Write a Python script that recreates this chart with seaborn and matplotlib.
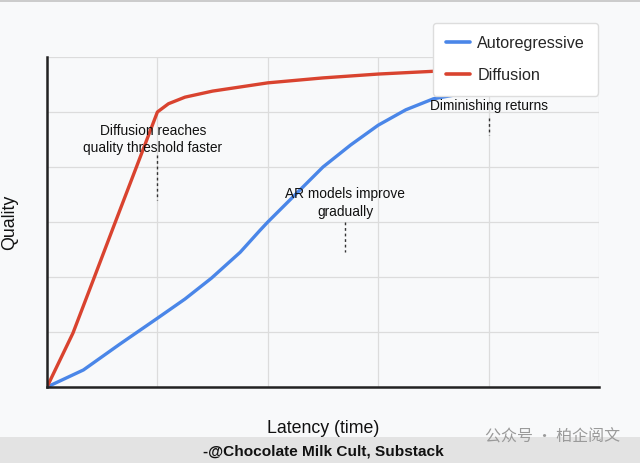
import matplotlib
matplotlib.use("Agg")
import matplotlib.pyplot as plt
import seaborn as sns
import pandas as pd
from matplotlib.patches import Rectangle

# ---- data ----
diff_x = [0, 0.235, 0.42, 0.6, 0.81, 1.0, 1.1, 1.25, 1.5, 2.0, 2.5, 3.0, 3.5, 4.0, 4.5, 5.0]
diff_y = [0, 0.98, 1.95, 2.9, 4.0, 5.0, 5.15, 5.27, 5.38, 5.53, 5.62, 5.69, 5.74, 5.79, 5.83, 5.87]
ar_x = [0, 0.33, 0.66, 1.0, 1.25, 1.49, 1.75, 1.93, 2.0, 2.25, 2.5, 2.75, 3.0, 3.25, 3.5, 3.75, 4.0, 4.5, 5.0]
ar_y = [0, 0.31, 0.78, 1.25, 1.6, 1.98, 2.45, 2.85, 3.0, 3.5, 4.0, 4.4, 4.76, 5.04, 5.24, 5.33, 5.39, 5.46, 5.5]
series_names = ["Autoregressive", "Diffusion"]
colors = ["#4a86e8", "#d9432f"]
annotations = [
    ("Diffusion reaches\nquality threshold faster", 0.96, 1.0, 4.5, 4.22, 3.4),
    ("AR models improve\ngradually", 2.7, 2.7, 3.35, 3.0, 2.45),
    ("Diminishing returns", 4.0, 4.0, 5.11, 4.89, 4.58),
]
x_label = "Latency (time)"
y_label = "Quality"
credit = "-@Chocolate Milk Cult, Substack"
watermark = "公众号 · 柏企阅文"

df = pd.concat([
    pd.DataFrame({"x": ar_x, "y": ar_y, "series": series_names[0]}),
    pd.DataFrame({"x": diff_x, "y": diff_y, "series": series_names[1]}),
])

sns.set_theme(style="white")
plt.rcParams["font.family"] = ["Liberation Sans", "Noto Sans CJK SC", "DejaVu Sans"]

bg = "#f8f9fa"
fig = plt.figure(figsize=(6.4, 4.63), dpi=100, facecolor=bg)
ax = fig.add_axes([47/640, 1-387/463, (599-47)/640, (387-57)/463])
ax.set_facecolor(bg)

sns.lineplot(data=df, x="x", y="y", hue="series", palette=dict(zip(series_names, colors)),
             linewidth=2.4, ax=ax, legend=False, sort=False)

ax.set_xlim(0, 5)
ax.set_ylim(0, 6)
ax.set_xticks([0, 1, 2, 3, 4, 5])
ax.set_yticks([0, 1, 2, 3, 4, 5, 6])
ax.set_xticklabels([])
ax.set_yticklabels([])
ax.grid(True, color="#dcdcdc", linewidth=0.9)
ax.tick_params(axis="x", length=3, width=1, color="#333333", direction="in")
ax.tick_params(axis="y", length=0)
for s in ["top", "right"]:
    ax.spines[s].set_visible(False)
for s in ["left", "bottom"]:
    ax.spines[s].set_color("#222222")
    ax.spines[s].set_linewidth(1.8)

ax.set_xlabel(x_label, fontsize=12.8, labelpad=20, color="#111111")
ax.set_ylabel(y_label, fontsize=12.8, labelpad=17, color="#111111")

for text, xt, xa, yt, y0, y1 in annotations:
    ax.text(xt, yt, text, ha="center", va="center", fontsize=9.9, color="#111111",
            linespacing=1.35)
    ax.plot([xa, xa], [y0, y1], color="#333333", linestyle=(0, (2, 2)), linewidth=1)

handles = [plt.Line2D([], [], color=c, linewidth=2.6) for c in colors]
leg = fig.legend(handles, series_names, loc="upper left",
                 bbox_to_anchor=(433/640, 1-23/463), fontsize=11.6,
                 frameon=True, handlelength=1.5, handletextpad=0.45,
                 labelspacing=1.05, borderpad=0.8, borderaxespad=0)
leg.get_frame().set_facecolor("white")
leg.get_frame().set_edgecolor("#dddddd")
leg.get_frame().set_alpha(1)

fig.patches.append(Rectangle((0, 0), 1, 26/463, transform=fig.transFigure,
                             facecolor="#e3e3e3", edgecolor="none", zorder=0))
fig.patches.append(Rectangle((0, 1-2/463), 1, 2/463, transform=fig.transFigure,
                             facecolor="#cccccc", edgecolor="none", zorder=0))
fig.text(323/640, 1-451/463, credit, ha="center", va="center", fontsize=11.1,
         fontweight="bold", color="#111111")
fig.text(620/640, 1-437/463, watermark, ha="right", va="center", fontsize=11.5,
         color="#9a9a9a", family=["Noto Sans CJK SC", "DejaVu Sans"])

fig.savefig("out.png", dpi=100, facecolor=bg)
